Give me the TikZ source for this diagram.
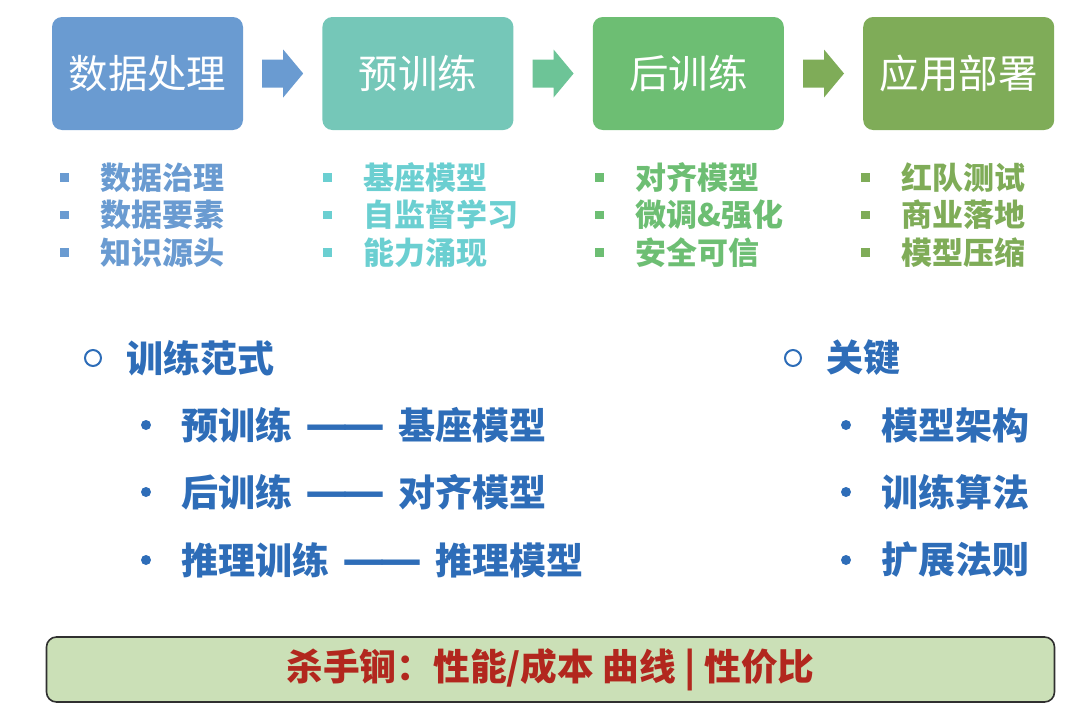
\documentclass[tikz,border=0pt]{standalone}
\usepackage{fontspec}
\setmainfont{Noto Sans CJK SC}
\newfontfamily\dashfont{DejaVu Sans}
\usetikzlibrary{positioning,calc}
\definecolor{stageA}{HTML}{6A9BD1}
\definecolor{stageB}{HTML}{75C7B8}
\definecolor{stageC}{HTML}{6DBE73}
\definecolor{stageD}{HTML}{7FAC58}
\definecolor{listB}{HTML}{6BCFD1}
\definecolor{arrowB}{HTML}{6DC497}
\definecolor{keyblue}{HTML}{2E6DB8}
\definecolor{barfill}{HTML}{CBE0B7}
\definecolor{barline}{HTML}{303030}
\definecolor{barred}{HTML}{B2271E}
\newcommand{\longdash}{{\dashfont\ {\fontsize{43}{43}\selectfont—\kern-.12em—}\ }}
\begin{document}
\begin{tikzpicture}[x=1pt,y=-1pt,
	stagebox/.style={rounded corners=10pt,minimum width=191pt,minimum height=113pt,inner sep=0pt,text=white,font=\fontsize{39.5}{40}\selectfont},
	listtext/.style={anchor=west,inner sep=0pt,font=\fontsize{31}{32}\selectfont\bfseries},
	sqbullet/.style={minimum size=8.5pt,inner sep=0pt},
	paratext/.style={anchor=west,inner sep=0pt,text=keyblue,font=\fontsize{37}{38}\selectfont\bfseries},
	ringbullet/.style={circle,draw=keyblue,line width=2pt,minimum size=16pt,inner sep=0pt},
	dotbullet/.style={circle,fill=keyblue,minimum size=10pt,inner sep=0pt}]
	\useasboundingbox (0,0) rectangle (1080,712);
	\node [stagebox,fill=stageA] (prep) at (147.5,73.5) {数据处理};
	\node [stagebox,fill=stageB,right=79pt of prep] (pretrain) {预训练};
	\node [stagebox,fill=stageC,right=79pt of pretrain] (posttrain) {后训练};
	\node [stagebox,fill=stageD,right=79pt of posttrain] (deploy) {应用部署};
	\foreach \a/\b/\c in {prep/pretrain/stageA,pretrain/posttrain/arrowB,posttrain/deploy/stageD}
	  \fill [\c] ($(\a.east)+(19,-14)$) -- ++(21,0) -- ++(0,-10) -- ++(20,24) -- ++(-20,24) -- ++(0,-10) -- ++(-21,0) -- cycle;
	\foreach \t [count=\i] in {数据治理,数据要素,知识源头} {
	  \node [listtext,text=stageA] (prep-\i) at (100,140+37.5*\i) {\t};
	  \node [sqbullet,fill=stageA,left=31pt of prep-\i] {};
	}
	\foreach \t [count=\i] in {基座模型,自监督学习,能力涌现} {
	  \node [listtext,text=listB] (pretrain-\i) at (363,140+37.5*\i) {\t};
	  \node [sqbullet,fill=listB,left=31pt of pretrain-\i] {};
	}
	\foreach \t [count=\i] in {对齐模型,微调\&强化,安全可信} {
	  \node [listtext,text=stageC] (posttrain-\i) at (635,140+37.5*\i) {\t};
	  \node [sqbullet,fill=stageC,left=31pt of posttrain-\i] {};
	}
	\foreach \t [count=\i] in {红队测试,商业落地,模型压缩} {
	  \node [listtext,text=stageD] (deploy-\i) at (901,140+37.5*\i) {\t};
	  \node [sqbullet,fill=stageD,left=31pt of deploy-\i] {};
	}
	\node [ringbullet] (ring-l) at (93,358) {};
	\node [paratext,right=24pt of ring-l] (paradigm) {训练范式};
	\foreach \t/\y [count=\i] in {预训练\longdash 基座模型/425,后训练\longdash 对齐模型/492,推理训练\longdash 推理模型/560} {
	  \node [paratext] (paradigm-\i) at (181,\y) {\t};
	  \node [dotbullet] (dot-l\i) at (146,\y) {};
	}
	\node [ringbullet] (ring-r) at (793,358) {};
	\node [paratext,right=24pt of ring-r] (key) {关键};
	\foreach \t/\y [count=\i] in {模型架构/425,训练算法/492,扩展法则/560} {
	  \node [paratext] (key-\i) at (881,\y) {\t};
	  \node [dotbullet] (dot-r\i) at (846,\y) {};
	}
	\node [draw=barline,fill=barfill,line width=1.6pt,rounded corners=10pt,minimum width=1008pt,minimum height=65pt,text=barred,font=\fontsize{36.7}{37}\selectfont\bfseries] (bar) at (550.5,669.5) {杀手锏：性能/成本 曲线 | 性价比};
\end{tikzpicture}
\end{document}
